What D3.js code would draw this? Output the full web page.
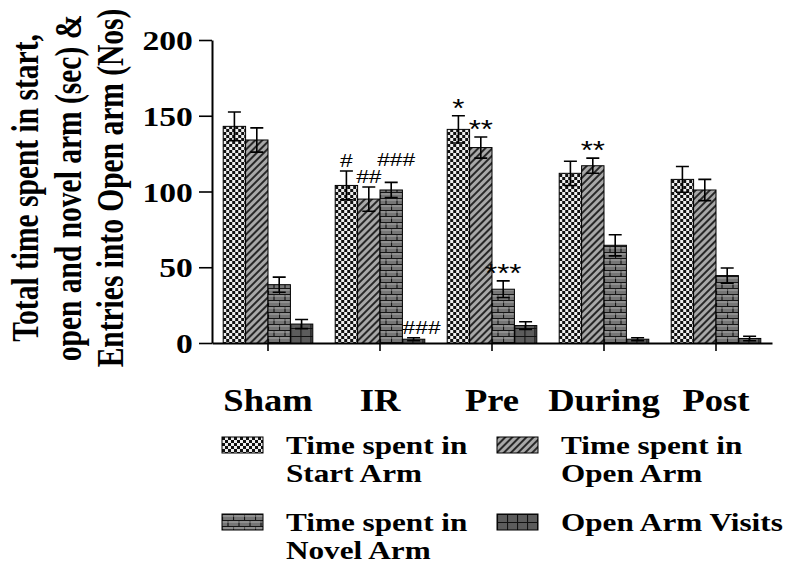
<!DOCTYPE html>
<html lang="en">
  <head>
    <meta charset="UTF-8" />
    <title>Arm test</title>
    <script src="https://cdn.jsdelivr.net/npm/d3@7.6.1/dist/d3.min.js"></script>
    <style>
      body { margin: 0; background: #fff; }
      svg { display: block; }
      .serif { font-family: 'Liberation Serif', 'Times New Roman', serif; font-weight: bold; }
    </style>
  </head>
  <body>
    <div id="box"></div>
    <script>
      const width = 788;
      const height = 563;

      // data
      const categories = ['Sham', 'IR', 'Pre', 'During', 'Post'];
      const seriesKeys = ['start', 'open', 'novel', 'visits'];
      const legendLines = [
        ['Time spent in', 'Start Arm'],
        ['Time spent in', 'Open Arm'],
        ['Time spent in', 'Novel Arm'],
        ['Open Arm Visits']
      ];
      const startArm = [143, 104, 141, 112, 108];
      const startArmErr = [9.5, 9.5, 9, 8, 8.5];
      const openArm = [134, 95, 129, 117, 101];
      const openArmErr = [8, 8, 7, 5, 7];
      const novelArm = [38.5, 101, 35.5, 64.5, 44.5];
      const novelArmErr = [5, 5, 5.5, 7, 5];
      const armVisits = [12.5, 2.5, 11.5, 2.5, 3];
      const armVisitsErr = [3, 1, 2.5, 1, 1.5];
      const startMarks = ['', '#', '*', '', ''];
      const openMarks = ['', '##', '**', '**', ''];
      const novelMarks = ['', '###', '***', '', ''];
      const visitsMarks = ['', '###', '', '', ''];
      const yTicks = [0, 50, 100, 150, 200];
      const yTitle = ['Total time spent in start,', 'open and novel arm (sec) &', 'Entries into Open arm (Nos)'];

      const values = [startArm, openArm, novelArm, armVisits];
      const errs = [startArmErr, openArmErr, novelArmErr, armVisitsErr];
      const marks = [startMarks, openMarks, novelMarks, visitsMarks];

      const rows = [];
      categories.forEach((c, i) => {
        seriesKeys.forEach((k, j) => {
          rows.push({cat: c, key: k, v: values[j][i], e: errs[j][i], m: marks[j][i]});
        });
      });

      const svg = d3.select('#box').append('svg').attr('width', width).attr('height', height);
      const margin = {left: 212, right: 15, top: 40, bottom: 220};

      // 图案
      const defs = svg.append('defs');
      const checker = defs.append('pattern').attr('id', 'p-start')
        .attr('patternUnits', 'userSpaceOnUse').attr('width', 6).attr('height', 6);
      checker.append('rect').attr('width', 6).attr('height', 6).attr('fill', '#eee');
      checker.append('rect').attr('width', 3).attr('height', 3).attr('fill', '#111');
      checker.append('rect').attr('x', 3).attr('y', 3).attr('width', 3).attr('height', 3).attr('fill', '#111');

      const hatch = defs.append('pattern').attr('id', 'p-open')
        .attr('patternUnits', 'userSpaceOnUse').attr('width', 5).attr('height', 5)
        .attr('patternTransform', 'rotate(45)');
      hatch.append('rect').attr('width', 5).attr('height', 5).attr('fill', '#a8a8a8');
      hatch.append('line').attr('x1', 1).attr('x2', 1).attr('y1', 0).attr('y2', 5)
        .attr('stroke', '#111').attr('stroke-width', 1.7);

      const brick = defs.append('pattern').attr('id', 'p-novel')
        .attr('patternUnits', 'userSpaceOnUse').attr('width', 11).attr('height', 12);
      brick.append('rect').attr('width', 11).attr('height', 12).attr('fill', '#767676');
      brick.append('path').attr('d', 'M0,0.5H11M0,6.5H11M0.5,0V6M6,6V12')
        .attr('stroke', '#151515').attr('stroke-width', 1.2);
      brick.append('path').attr('d', 'M0,2H11M0,8H11')
        .attr('stroke', '#b5b5b5').attr('stroke-width', 0.8);

      const grid = defs.append('pattern').attr('id', 'p-visits')
        .attr('patternUnits', 'userSpaceOnUse').attr('width', 10).attr('height', 8);
      grid.append('rect').attr('width', 10).attr('height', 8).attr('fill', '#5c5c5c');
      grid.append('path').attr('d', 'M0,0.5H10M0.5,0V8')
        .attr('stroke', '#111').attr('stroke-width', 1.2);

      // scales
      const x = d3.scaleBand()
        .domain(categories)
        .range([margin.left, width - margin.right - 1])
        .paddingInner(0.2)
        .paddingOuter(0.1);
      const xSub = d3.scaleBand().domain(seriesKeys).range([0, x.bandwidth()]);
      const y = d3.scaleLinear().domain([0, 200]).range([height - margin.bottom, margin.top]);

      // y axis
      const yAxis = svg.append('g')
        .attr('transform', `translate(${margin.left},0)`)
        .call(d3.axisLeft(y).tickValues(yTicks).tickSize(13).tickPadding(3).tickSizeOuter(0));
      yAxis.select('.domain').attr('stroke', '#000').attr('stroke-width', 2);
      yAxis.selectAll('.tick line').attr('stroke', '#000').attr('stroke-width', 1.6);
      yAxis.selectAll('.tick text')
        .attr('class', 'serif')
        .attr('font-size', 28)
        .attr('fill', '#000')
        .attr('transform', 'scale(1.2,1)')
        .attr('dy', '0.34em');

      // x axis
      const xAxis = svg.append('g')
        .attr('transform', `translate(0,${y(0)})`)
        .call(d3.axisBottom(x).tickSize(8).tickPadding(51).tickSizeOuter(0));
      xAxis.select('.domain').attr('stroke', '#000').attr('stroke-width', 2);
      xAxis.selectAll('.tick line').attr('stroke', '#000').attr('stroke-width', 1.6);
      xAxis.selectAll('.tick text')
        .attr('class', 'serif')
        .attr('font-size', 31)
        .attr('fill', '#000')
        .attr('dy', '0.3em')
        .attr('transform', 'scale(1.18,1)');

      // bars
      const bars = svg.append('g').selectAll('g').data(rows).enter().append('g')
        .attr('transform', d => `translate(${x(d.cat) + xSub(d.key)},0)`);
      const bw = xSub.bandwidth();
      bars.append('rect')
        .attr('y', d => y(d.v))
        .attr('width', bw)
        .attr('height', d => y(0) - y(d.v))
        .attr('fill', d => `url(#p-${d.key})`)
        .attr('stroke', '#000')
        .attr('stroke-width', 1);

      // error bars
      const cap = 6.5;
      bars.append('path')
        .attr('d', d => {
          const hi = y(d.v + d.e), lo = y(Math.max(0, d.v - d.e)), c = bw / 2;
          return `M${c},${lo}V${hi}M${c - cap},${hi}H${c + cap}M${c - cap},${lo}H${c + cap}`;
        })
        .attr('fill', 'none')
        .attr('stroke', '#000')
        .attr('stroke-width', 1.6);

      // 显著性标记
      bars.filter(d => d.m).append('text')
        .attr('transform', d => {
          const star = d.m.includes('*');
          // ### over a tall bar sits higher so it clears the ## beside it
          const lift = !star && d.m.length === 3 && d.key !== 'visits' ? 12 : 0;
          const by = y(d.v + d.e) + (star ? 1 : -4 - lift);
          const dx = d.key === 'visits' ? 8 : (lift ? 5 : 0);
          return `translate(${bw / 2 + dx},${by}) scale(1.2,1)`;
        })
        .attr('text-anchor', 'middle')
        .attr('font-family', "'Liberation Sans', Arial, sans-serif")
        .attr('font-size', d => (d.m.includes('*') ? 26 : 19))
        .attr('fill', '#000')
        .text(d => d.m);

      // y title
      svg.append('g').selectAll('text').data(yTitle).enter().append('text')
        .attr('class', 'serif')
        .attr('font-size', 29.5)
        .attr('text-anchor', 'middle')
        .attr('fill', '#000')
        .attr('transform', (d, i) => `translate(${38 + i * 42.5},188) rotate(-90) scale(1,1.25)`)
        .text(d => d);

      // legend
      const legend = svg.append('g').selectAll('g').data(seriesKeys).enter().append('g')
        .attr('transform', (d, i) => `translate(${222 + (i % 2) * 275},${437 + Math.floor(i / 2) * 77})`);
      legend.append('rect')
        .attr('width', 41)
        .attr('height', 16)
        .attr('fill', d => `url(#p-${d})`)
        .attr('stroke', '#000')
        .attr('stroke-width', 1);
      legend.each(function (d, i) {
        d3.select(this).selectAll('text').data(legendLines[i]).enter().append('text')
          .attr('class', 'serif')
          .attr('font-size', 26)
          .attr('fill', '#000')
          .attr('transform', (t, k) => `translate(64,${17 + k * 28}) scale(1.2,1)`)
          .text(t => t);
      });
    </script>
  </body>
</html>
